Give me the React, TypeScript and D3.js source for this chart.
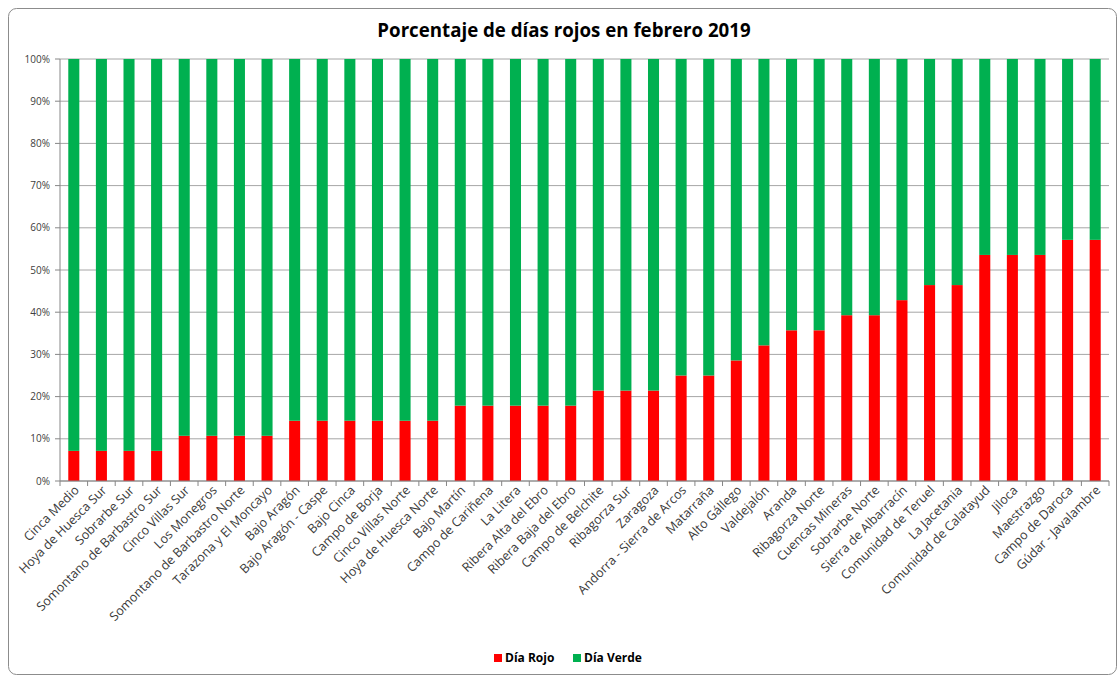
import React from "react";
import * as d3 from "d3";

const categories: string[] = [
  "Cinca Medio", "Hoya de Huesca Sur", "Sobrarbe Sur", "Somontano de Barbastro Sur",
  "Cinco Villas Sur", "Los Monegros", "Somontano de Barbastro Norte", "Tarazona y El Moncayo",
  "Bajo Aragón", "Bajo Aragón - Caspe", "Bajo Cinca", "Campo de Borja", "Cinco Villas Norte",
  "Hoya de Huesca Norte", "Bajo Martín", "Campo de Cariñena", "La Litera", "Ribera Alta del Ebro",
  "Ribera Baja del Ebro", "Campo de Belchite", "Ribagorza Sur", "Zaragoza",
  "Andorra - Sierra de Arcos", "Matarraña", "Alto Gállego", "Valdejalón", "Aranda",
  "Ribagorza Norte", "Cuencas Mineras", "Sobrarbe Norte", "Sierra de Albarracín",
  "Comunidad de Teruel", "La Jacetania", "Comunidad de Calatayud", "Jiloca", "Maestrazgo",
  "Campo de Daroca", "Gúdar - Javalambre",
];

// red days out of 28 (February 2019)
const diasRojos: number[] = [
  2, 2, 2, 2, 3, 3, 3, 3, 4, 4, 4, 4, 4, 4, 5, 5, 5, 5, 5, 6, 6, 6, 7, 7, 8, 9, 10, 10, 11, 11,
  12, 13, 13, 15, 15, 15, 16, 16,
];
const diasVerdes: number[] = diasRojos.map((r) => 28 - r);

const yTicks: number[] = [0, 0.1, 0.2, 0.3, 0.4, 0.5, 0.6, 0.7, 0.8, 0.9, 1];
const seriesNames: string[] = ["Día Rojo", "Día Verde"];
const seriesColors: string[] = ["#FF0000", "#00B050"];

const W = 1117;
const H = 675;
const plot = { left: 60, right: 1109, top: 59, bottom: 481 };
const FONT = "'Open Sans', 'Noto Sans', sans-serif";

export default function App() {
  const x = d3
    .scaleBand<string>()
    .domain(categories)
    .range([plot.left, plot.right])
    .paddingInner(0.6)
    .paddingOuter(0.3);
  const y = d3.scaleLinear().domain([0, 1]).range([plot.bottom, plot.top]);

  const rows = categories.map((c, i) => {
    const total = diasRojos[i] + diasVerdes[i];
    return { cat: c, rojo: diasRojos[i] / total, verde: diasVerdes[i] / total };
  });
  const stack = d3.stack<any>().keys(["rojo", "verde"])(rows);

  const step = (plot.right - plot.left) / categories.length;
  const boundaries = d3.range(categories.length + 1).map((i) => plot.left + i * step);

  return (
    <svg
      width={W}
      height={H}
      style={{ position: "absolute", left: 0, top: 0, background: "#fff" }}
      fontFamily={FONT}
    >
      <rect x={8.5} y={8.5} width={W - 9} height={H - 9} rx={8} fill="#fff" stroke="#8c8c8c" />
      <text
        x={564}
        y={37}
        textAnchor="middle"
        fontSize={18.7}
        fontWeight="bold"
        fill="#000"
      >
        Porcentaje de días rojos en febrero 2019
      </text>

      {yTicks.map((t) => (
        <g key={t}>
          <line x1={plot.left} x2={plot.right} y1={y(t)} y2={y(t)} stroke="#a6a6a6" />
          <line x1={plot.left - 5} x2={plot.left} y1={y(t)} y2={y(t)} stroke="#868686" />
          <text
            x={plot.left - 10}
            y={y(t)}
            dy="0.35em"
            textAnchor="end"
            fontSize={10}
            fill="#404040"
          >
            {d3.format(".0%")(t)}
          </text>
        </g>
      ))}

      {stack.map((s, si) => (
        <g key={si} fill={seriesColors[si]}>
          {s.map((d: any, i: number) => (
            <rect
              key={i}
              x={x(categories[i])}
              width={x.bandwidth()}
              y={y(d[1])}
              height={y(d[0]) - y(d[1])}
            />
          ))}
        </g>
      ))}

      <line x1={plot.left} x2={plot.left} y1={plot.top} y2={plot.bottom} stroke="#868686" />
      <line x1={plot.left} x2={plot.right} y1={plot.bottom} y2={plot.bottom} stroke="#868686" />
      {boundaries.map((b, i) => (
        <line key={i} x1={b} x2={b} y1={plot.bottom} y2={plot.bottom + 5} stroke="#868686" />
      ))}

      {categories.map((c) => {
        const cx = (x(c) as number) + x.bandwidth() / 2 + 6;
        const cy = plot.bottom + 10;
        return (
          <text
            key={c}
            transform={`translate(${cx},${cy}) rotate(-45)`}
            textAnchor="end"
            fontSize={12.6}
            fill="#3a3a3a"
          >
            {c}
          </text>
        );
      })}

      {seriesNames.map((n, i) => {
        const lx = [494, 573][i];
        return (
          <g key={n}>
            <rect x={lx} y={654} width={8} height={8} fill={seriesColors[i]} />
            <text x={lx + 11} y={662} fontSize={12} fontWeight="bold" fill="#000">
              {n}
            </text>
          </g>
        );
      })}
    </svg>
  );
}
